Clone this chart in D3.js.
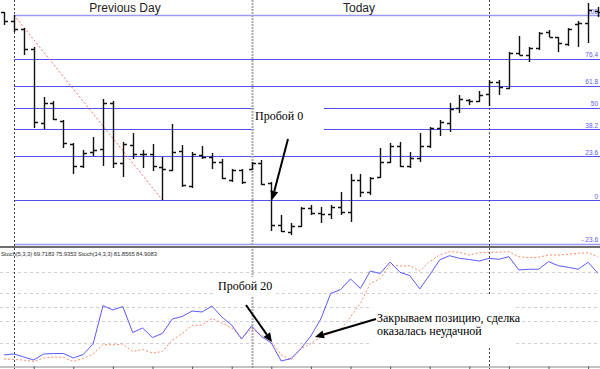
<!DOCTYPE html>
<html>
<head>
<meta charset="utf-8">
<script src="https://cdnjs.cloudflare.com/ajax/libs/d3/7.8.5/d3.min.js"></script>
<style>
body { margin: 0; background: #fff; overflow: hidden; }
svg { display: block; }
</style>
</head>
<body>
<script>
// hourly bars
var opens  = [1.4603,1.4594,1.4586,1.4566,1.4492,1.4512,1.4494,1.4471,1.4449,1.4463,
              1.4466,1.4512,1.4452,1.4470,1.4461,1.4461,1.4448,1.4445,1.4464,1.4429,
              1.4460,1.4458,1.4453,1.4435,1.4445,1.4446,1.4452,1.4432,1.4390,1.4383,
              1.4389,1.4407,1.4402,1.4401,1.4408,1.4403,1.4435,1.4423,1.4438,1.4453,
              1.4469,1.4449,1.4457,1.4469,1.4487,1.4492,1.4507,1.4515,1.4514,1.4521,
              1.4533,1.4527,1.4562,1.4560,1.4567,1.4583,1.4578,1.4571,1.4591,1.4592,1.4604];
var highs  = [1.4603,1.4600,1.4587,1.4568,1.4518,1.4514,1.4495,1.4472,1.4465,1.4478,
              1.4516,1.4514,1.4473,1.4482,1.4465,1.4471,1.4458,1.4491,1.4470,1.4463,
              1.4469,1.4462,1.4456,1.4446,1.4446,1.4453,1.4455,1.4433,1.4400,1.4392,
              1.4408,1.4410,1.4408,1.4410,1.4423,1.4441,1.4441,1.4438,1.4467,1.4472,
              1.4473,1.4463,1.4482,1.4488,1.4495,1.4512,1.4520,1.4516,1.4524,1.4535,
              1.4535,1.4563,1.4579,1.4568,1.4583,1.4585,1.4578,1.4587,1.4594,1.4612,1.4608];
var lows   = [1.4590,1.4583,1.4560,1.4487,1.4486,1.4495,1.4467,1.4441,1.4447,1.4459,
              1.4449,1.4447,1.4438,1.4456,1.4447,1.4444,1.4415,1.4444,1.4428,1.4427,
              1.4456,1.4446,1.4436,1.4433,1.4431,1.4445,1.4430,1.4384,1.4383,1.4380,
              1.4388,1.4400,1.4392,1.4396,1.4400,1.4393,1.4418,1.4420,1.4437,1.4452,
              1.4448,1.4447,1.4453,1.4467,1.4479,1.4483,1.4502,1.4510,1.4513,1.4509,
              1.4520,1.4526,1.4560,1.4553,1.4565,1.4578,1.4563,1.4569,1.4568,1.4572,1.4598];
var closes = [1.4594,1.4586,1.4566,1.4493,1.4512,1.4496,1.4472,1.4449,1.4462,1.4465,
              1.4512,1.4452,1.4471,1.4461,1.4461,1.4449,1.4446,1.4463,1.4430,1.4461,
              1.4458,1.4453,1.4437,1.4445,1.4433,1.4452,1.4431,1.4390,1.4384,1.4389,
              1.4407,1.4402,1.4401,1.4408,1.4403,1.4435,1.4423,1.4437,1.4453,1.4469,
              1.4449,1.4457,1.4469,1.4487,1.4493,1.4506,1.4516,1.4514,1.4520,1.4533,
              1.4528,1.4562,1.4560,1.4567,1.4582,1.4578,1.4572,1.4586,1.4592,1.4605,1.4603];

// stochastic lines
var stochMain = [9.9,10.7,8.2,5.6,10.7,11.1,11.1,7.3,10.3,19.1,
                 51.4,47.8,50.7,28.8,32.6,24.6,28.0,40.2,42.3,46.9,
                 46.1,51.1,41.9,35.1,23.3,34.3,25.4,20.0,4.8,6.9,
                 15.3,25.9,40.2,61.7,65.0,73.9,65.9,80.6,78.5,88.2,
                 79.5,76.7,65.5,77.3,89.9,93.5,91.3,90.3,89.0,91.3,
                 90.5,92.7,81.5,82.1,82.1,88.5,85.1,83.7,82.1,88.0,78.7];
var stochSlow = [6.5,6.1,5.6,4.4,7.3,8.2,7.9,4.4,6.9,10.7,
                 18.7,18.3,19.1,12.8,14.5,11.5,12.8,22.5,28.0,34.7,
                 35.1,40.6,36.8,32.6,24.2,32.2,26.7,21.2,9.9,5.6,
                 15.3,19.5,25.0,28.0,31.3,41.9,53.2,70.1,74.3,86.1,
                 84.8,85.1,80.6,88.5,94.1,96.9,96.4,94.1,96.0,96.4,
                 96.4,96.9,92.7,91.8,92.2,94.1,94.1,94.7,95.5,96.0,92.7];

var fibHigh = 1.4600, fibLow = 1.4415;
var fibStartBar = 1, fibEndBar = 16;
var fibLevels = [100, 76.4, 61.8, 50, 38.2, 23.6, 0, -23.6];
var fibLabels = ["100", "76.4", "61.8", "50", "38.2", "23.6", "0", "- 23.6"];
var stochLevels = [20, 38.2, 50, 61.8, 80];
var daySplits = [1, 25, 49];
var axisTicks = [3, 7, 11, 15, 19, 23, 27, 31, 35, 39, 43, 47, 51, 55, 59];
var stochText = "Stoch(5,3,3) 69.7183 75.9353  Stoch(14,3,3) 81.8565 84.9083";

var W = 600, H = 369;
var svg = d3.select("body").append("svg")
    .attr("width", W)
    .attr("height", H);

var x = d3.scaleLinear().domain([0, 60]).range([4, 598]);
var y = d3.scaleLinear().domain([1.4370, 1.4615]).range([245, 0]);
var ys = d3.scaleLinear().domain([0, 100]).range([366.7, 248]);
var px = function(v) { return Math.round(v) + 0.5; };

// fib levels
var fibG = svg.append("g");
fibLevels.forEach(function(l, i) {
    var p = fibLow + (fibHigh - fibLow) * l / 100;
    var edge = (l == 100 || l == -23.6);
    fibG.append("line")
        .attr("x1", 14).attr("x2", W)
        .attr("y1", px(y(p))).attr("y2", px(y(p)))
        .attr("stroke", edge ? "#9a9af2" : "#5050ee")
        .attr("stroke-width", edge ? 1.6 : 1);
    fibG.append("text")
        .attr("x", 598).attr("y", y(p) - 1.5)
        .attr("text-anchor", "end")
        .attr("font-family", "Liberation Sans, Arial, sans-serif")
        .attr("font-size", 6.5)
        .attr("fill", "#5a5af0")
        .text(fibLabels[i]);
});

// fib trend line
svg.append("line")
    .attr("x1", x(fibStartBar)).attr("y1", y(fibHigh))
    .attr("x2", x(fibEndBar)).attr("y2", y(fibLow))
    .attr("stroke", "#ff6b6b")
    .attr("stroke-width", 1)
    .attr("stroke-dasharray", "2,2");

// stochastic level lines
stochLevels.forEach(function(l) {
    svg.append("line")
        .attr("x1", 0).attr("x2", W)
        .attr("y1", px(ys(l))).attr("y2", px(ys(l)))
        .attr("stroke", "#cfcfcf")
        .attr("stroke-dasharray", "3,3");
});

// day separators
daySplits.forEach(function(b, i) {
    svg.append("line")
        .attr("x1", px(x(b))).attr("x2", px(x(b)))
        .attr("y1", 0).attr("y2", H)
        .attr("stroke", i == 1 ? "#a8a8a8" : "#444")
        .attr("stroke-width", i == 1 ? 2 : 1)
        .attr("stroke-dasharray", i == 1 ? "2,1" : "2,2");
});

// day captions
svg.append("text").attr("x", 125).attr("y", 12)
    .attr("text-anchor", "middle")
    .attr("font-family", "Liberation Sans, Arial, sans-serif")
    .attr("font-size", 12).attr("fill", "#222")
    .text("Previous Day");
svg.append("text").attr("x", 359).attr("y", 12)
    .attr("text-anchor", "middle")
    .attr("font-family", "Liberation Sans, Arial, sans-serif")
    .attr("font-size", 12).attr("fill", "#222")
    .text("Today");

// OHLC bars
var bars = svg.append("g").selectAll("path")
    .data(d3.range(opens.length))
    .enter()
    .append("path")
    .attr("d", function(i) {
        var cx = px(x(i));
        return "M" + cx + "," + y(highs[i]) + "V" + y(lows[i]) +
            "M" + (cx - 3.5) + "," + px(y(opens[i])) + "H" + cx +
            "M" + cx + "," + px(y(closes[i])) + "H" + (cx + 3.5);
    })
    .attr("fill", "none")
    .attr("stroke", "#111")
    .attr("stroke-width", 1.4);

// panel separator
svg.append("rect")
    .attr("x", 0).attr("y", 246)
    .attr("width", W).attr("height", 2)
    .attr("fill", "#6e6e6e");

// stochastic lines
var line = d3.line()
    .x(function(d, i) { return x(i); })
    .y(function(d) { return ys(d); });

svg.append("path")
    .datum(stochSlow)
    .attr("d", line)
    .attr("fill", "none")
    .attr("stroke", "#ff8a66")
    .attr("stroke-width", 1)
    .attr("stroke-dasharray", "2,2");

svg.append("path")
    .datum(stochMain)
    .attr("d", line)
    .attr("fill", "none")
    .attr("stroke", "#5a5aff")
    .attr("stroke-width", 1);

// bottom time axis (no labels)
var axis = svg.append("g")
    .attr("transform", "translate(0,366.5)")
    .call(d3.axisBottom(x).tickValues(axisTicks).tickSize(3).tickFormat(""));
axis.select(".domain").attr("d", "M0,0.5H" + W).attr("stroke", "#888");
axis.selectAll(".tick line").attr("stroke", "#555");

svg.append("text")
    .attr("x", 1).attr("y", 256)
    .attr("font-family", "Liberation Sans, Arial, sans-serif")
    .attr("font-size", 6)
    .attr("textLength", 156)
    .attr("fill", "#333")
    .text(stochText);

// pasted annotations with white background
var boxes = [[254, 100, 70, 36], [214, 277, 62, 20], [372, 296, 143, 50]];
boxes.forEach(function(b) {
    svg.append("rect")
        .attr("x", b[0]).attr("y", b[1])
        .attr("width", b[2]).attr("height", b[3])
        .attr("fill", "#fff");
});

var note = function(tx, ty, s) {
    svg.append("text")
        .attr("x", tx).attr("y", ty)
        .attr("font-family", "Liberation Serif, Times New Roman, serif")
        .attr("font-size", 12)
        .attr("fill", "#000")
        .text(s);
};
note(255, 120, "Пробой 0");
note(218, 290, "Пробой 20");
note(377, 322, "Закрываем позицию, сделка");
note(377, 335, "оказалась неудачной");

var arrow = function(x1, y1, x2, y2) {
    var a = Math.atan2(y2 - y1, x2 - x1);
    var len = 9, wid = 4;
    var bx = x2 - len * Math.cos(a), by = y2 - len * Math.sin(a);
    svg.append("line")
        .attr("x1", x1).attr("y1", y1)
        .attr("x2", bx).attr("y2", by)
        .attr("stroke", "#000")
        .attr("stroke-width", 2);
    svg.append("path")
        .attr("d", "M" + x2 + "," + y2 +
            "L" + (bx + wid * Math.sin(a)) + "," + (by - wid * Math.cos(a)) +
            "L" + (bx - wid * Math.sin(a)) + "," + (by + wid * Math.cos(a)) + "Z")
        .attr("fill", "#000");
};
arrow(288, 139, 272, 200);
arrow(246, 305, 272, 342);
arrow(376, 319, 315, 337);
</script>
</body>
</html>
